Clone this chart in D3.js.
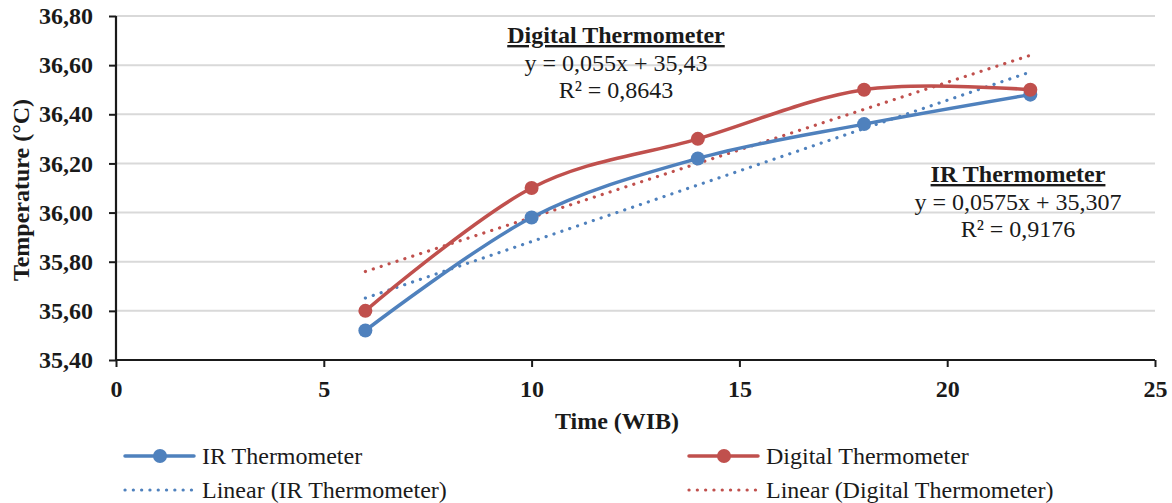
<!DOCTYPE html>
<html><head><meta charset="utf-8">
<script src="https://cdn.jsdelivr.net/npm/d3@7"></script>
<style>body{margin:0;background:#fff}svg{display:block}svg text{font-family:"Liberation Serif","DejaVu Serif","Times New Roman",serif !important;fill:#1a1a1a}</style>
</head><body><svg id="c" width="1172" height="503"></svg>
<script>
const times = [6, 10, 14, 18, 22];
const irValues = [35.52, 35.98, 36.22, 36.36, 36.48];
const digitalValues = [35.60, 36.10, 36.30, 36.50, 36.50];
const seriesNames = ["IR Thermometer", "Digital Thermometer"];
const xTicks = [0, 5, 10, 15, 20, 25];
const yTicks = [35.4, 35.6, 35.8, 36.0, 36.2, 36.4, 36.6, 36.8];
const irEquation = ["y = 0,0575x + 35,307", "R² = 0,9176"];
const digitalEquation = ["y = 0,055x + 35,43", "R² = 0,8643"];

const blue = "#4F81BD", red = "#C0504D";
const svg = d3.select("#c");
const L = 116, R = 1155, T = 16, B = 360;
const x = d3.scaleLinear().domain([0, 25]).range([L, R]);
const y = d3.scaleLinear().domain([35.4, 36.8]).range([B, T]);
const fmt = v => d3.format(".2f")(v).replace(".", ",");

// gridlines
svg.append("g").selectAll("line").data(yTicks.slice(1)).join("line")
  .attr("x1", L).attr("x2", R).attr("y1", d => y(d)).attr("y2", d => y(d))
  .attr("stroke", "#d9d9d9").attr("stroke-width", 2);

// axes
const yAxis = svg.append("g").attr("transform", `translate(${L},0)`)
  .call(d3.axisLeft(y).tickValues(yTicks).tickFormat(fmt).tickSize(7).tickPadding(16));
const xAxis = svg.append("g").attr("transform", `translate(0,${B})`)
  .call(d3.axisBottom(x).tickValues(xTicks).tickFormat(d3.format("d")).tickSize(7).tickPadding(13));
[yAxis, xAxis].forEach(g => {
  g.attr("font-family", null);
  g.select(".domain").attr("stroke", "#1a1a1a").attr("stroke-width", 2.2);
  g.selectAll(".tick line").attr("stroke", "#1a1a1a").attr("stroke-width", 2);
  g.selectAll("text").style("font-weight", "bold")
    .style("font-size", "24px").attr("fill", "#1a1a1a");
});
xAxis.select(".domain").attr("d", `M${L},0H${R}`);
yAxis.select(".domain").attr("d", `M0,${B}V${T}`);
xAxis.selectAll(".tick line").attr("y1", 0).attr("y2", 7);

// axis titles
svg.append("text").attr("x", 617).attr("y", 429).attr("text-anchor", "middle")
  .style("font-weight", "bold").style("font-size", "24px").text("Time (WIB)");
svg.append("text").attr("transform", "translate(29,190) rotate(-90)").attr("text-anchor", "middle")
  .style("font-weight", "bold").style("font-size", "24px").text("Temperature (°C)");

// regression
function fit(xs, ys) {
  const mx = d3.mean(xs), my = d3.mean(ys);
  const s = d3.sum(xs, (v, i) => (v - mx) * (ys[i] - my)) / d3.sum(xs, v => (v - mx) * (v - mx));
  return { s, b: my - s * mx };
}
const series = [
  { vals: irValues, color: blue },
  { vals: digitalValues, color: red }
];
const xMin = d3.min(times), xMax = d3.max(times);
series.forEach(sr => {
  const f = fit(times, sr.vals);
  svg.append("line").attr("x1", x(xMin)).attr("x2", x(xMax))
    .attr("y1", y(f.s * xMin + f.b)).attr("y2", y(f.s * xMax + f.b))
    .attr("stroke", sr.color).attr("stroke-width", 3.2).attr("stroke-dasharray", "0.1,8.2")
    .attr("stroke-linecap", "round");
});
const line = d3.line().x((d, i) => x(times[i])).y(d => y(d)).curve(d3.curveCatmullRom.alpha(0));
series.forEach(sr => {
  svg.append("path").attr("d", line(sr.vals)).attr("fill", "none")
    .attr("stroke", sr.color).attr("stroke-width", 3.5).attr("stroke-linecap", "round");
  svg.append("g").selectAll("circle").data(sr.vals).join("circle")
    .attr("cx", (d, i) => x(times[i])).attr("cy", d => y(d)).attr("r", 7).attr("fill", sr.color);
});

// annotations
function annot(cx, top, title, lines) {
  svg.append("text").attr("x", cx).attr("y", top).attr("text-anchor", "middle")
    .style("font-weight", "bold").style("font-size", "24px").style("text-decoration", "underline").text(title);
  lines.forEach((l, i) => svg.append("text").attr("x", cx).attr("y", top + 27.5 + i * 27.5)
    .attr("text-anchor", "middle").style("font-size", "24px").text(l));
}
annot(616, 43, "Digital Thermometer", digitalEquation);
annot(1018, 182, seriesNames[0], irEquation);

// legend
const legend = [
  { name: seriesNames[0], color: blue, dot: false, lx: 125, ly: 456 },
  { name: seriesNames[1], color: red, dot: false, lx: 689, ly: 456 },
  { name: "Linear (" + seriesNames[0] + ")", color: blue, dot: true, lx: 125, ly: 490 },
  { name: "Linear (" + seriesNames[1] + ")", color: red, dot: true, lx: 689, ly: 490 }
];
legend.forEach(e => {
  const g = svg.append("g");
  g.append("line").attr("x1", e.lx).attr("x2", e.lx + 69).attr("y1", e.ly).attr("y2", e.ly)
    .attr("stroke", e.color).attr("stroke-width", e.dot ? 3.2 : 3.5)
    .attr("stroke-dasharray", e.dot ? "0.1,8.2" : null).attr("stroke-linecap", "round");
  if (!e.dot) g.append("circle").attr("cx", e.lx + 35).attr("cy", e.ly).attr("r", 7).attr("fill", e.color);
  g.append("text").attr("x", e.lx + 77).attr("y", e.ly + 7.5).style("font-size", "24px").text(e.name);
});
</script></body></html>
